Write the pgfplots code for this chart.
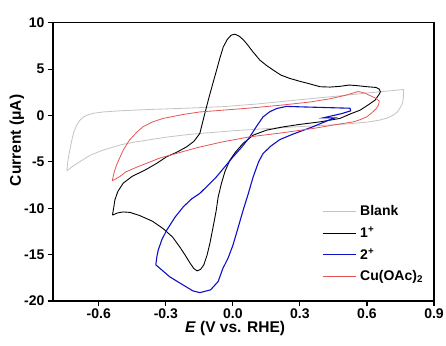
\documentclass[border=0pt]{standalone}
\usepackage{fontspec}
\setmainfont{Liberation Sans}
\usepackage{pgfplots}
\pgfplotsset{compat=1.18}
\definecolor{cblank}{RGB}{195,195,195}
\definecolor{cred}{RGB}{228,85,85}
\definecolor{cblue}{RGB}{15,15,200}
\begin{document}
\begin{tikzpicture}
\useasboundingbox (-53pt,-44pt) rectangle (393pt,301pt);
\begin{axis}[
  at={(0pt,0pt)}, anchor=south west,
  scale only axis, width=381pt, height=278.3pt,
  xmin=-0.805, xmax=0.9, ymin=-20, ymax=10,
  xtick={-0.6,-0.3,0,0.3,0.6,0.9},
  ytick={-20,-15,-10,-5,0,5,10},
  /pgf/number format/assume math mode=true,
  x tick label style={/pgf/number format/.cd,fixed,fixed zerofill,precision=1,/tikz/.cd},
  tick label style={font=\bfseries\fontsize{14}{14}\selectfont},
  xticklabel style={yshift=1pt},
  axis line style={line width=1.1pt},
  every tick/.style={black, line width=1.1pt},
  major tick length=5pt,
  tick align=outside,
  xtick pos=lower, ytick pos=left,
  xlabel={\textit{E} (V vs. RHE)},
  xlabel style={at={(axis description cs:0.478,-0.099)}, anchor=center, font=\bfseries\fontsize{15.5}{15.5}\selectfont},
  ylabel={Current (μA)},
  ylabel style={at={(axis description cs:-0.095,0.577)}, anchor=center, font=\bfseries\fontsize{15.5}{15.5}\selectfont},
  legend style={draw=none, fill=none, at={(axis description cs:0.698,0.358)}, anchor=north west,
    font=\bfseries\fontsize{14}{14}\selectfont, row sep=5.5pt, cells={anchor=west},
    nodes={inner xsep=4pt}},
  legend image code/.code={\draw[#1] (0pt,0pt) -- (33pt,0pt);},
]
\addplot[cblank, line width=0.8pt] table {
-0.743 -5.97
-0.740 -5.2
-0.735 -4.4
-0.728 -3.5
-0.720 -2.6
-0.712 -1.8
-0.700 -1.1
-0.686 -0.55
-0.668 -0.15
-0.645 0.1
-0.620 0.25
-0.580 0.38
-0.507 0.5
-0.400 0.62
-0.224 0.77
-0.045 0.95
0.100 1.22
0.211 1.48
0.300 1.70
0.400 1.93
0.500 2.17
0.600 2.42
0.700 2.65
0.763 2.80
0.764 2.3
0.762 1.7
0.757 1.2
0.748 0.8
0.735 0.35
0.717 0.03
0.690 -0.28
0.657 -0.5
0.600 -0.72
0.509 -0.92
0.400 -1.08
0.300 -1.2
0.150 -1.42
0.000 -1.65
-0.148 -1.94
-0.224 -2.12
-0.300 -2.35
-0.433 -2.84
-0.500 -3.15
-0.582 -3.74
-0.640 -4.3
-0.686 -5.0
-0.718 -5.5
-0.743 -5.97
};
\addlegendentry{Blank}
\addplot[black, line width=0.9pt] table {
-0.539 -10.74
-0.533 -9.9
-0.528 -9.1
-0.515 -8.2
-0.491 -7.3
-0.450 -6.55
-0.394 -5.9
-0.340 -5.15
-0.297 -4.46
-0.250 -3.95
-0.207 -3.38
-0.175 -2.8
-0.148 -1.94
-0.133 -0.5
-0.118 0.93
-0.103 2.3
-0.088 3.6
-0.073 4.88
-0.058 6.2
-0.043 7.39
-0.025 8.2
-0.008 8.65
0.009 8.76
0.028 8.55
0.045 8.2
0.061 7.76
0.090 6.85
0.121 5.96
0.150 5.4
0.181 4.88
0.215 4.35
0.255 3.99
0.300 3.68
0.337 3.45
0.390 3.10
0.434 3.06
0.479 3.14
0.520 3.28
0.554 3.22
0.600 3.10
0.640 3.02
0.655 2.85
0.660 2.55
0.655 2.3
0.636 1.65
0.600 1.05
0.569 0.57
0.524 0.15
0.479 -0.32
0.390 -0.69
0.300 -0.96
0.225 -1.23
0.151 -1.58
0.091 -2.12
0.046 -3.0
0.010 -4.0
-0.013 -4.8
-0.035 -6.0
-0.051 -7.3
-0.066 -8.8
-0.075 -10.3
-0.090 -12.2
-0.103 -13.8
-0.115 -15.0
-0.130 -16.1
-0.145 -16.6
-0.160 -16.75
-0.175 -16.5
-0.192 -15.9
-0.215 -15.0
-0.237 -14.2
-0.270 -13.1
-0.312 -12.2
-0.360 -11.4
-0.416 -10.8
-0.460 -10.45
-0.491 -10.4
-0.515 -10.5
-0.539 -10.74
};
\addlegendentry{1\textsuperscript{+}}
\addplot[cblue, line width=1.1pt] table {
-0.345 -16.1
-0.340 -15.2
-0.334 -14.5
-0.318 -13.4
-0.297 -12.4
-0.260 -11.0
-0.222 -9.85
-0.185 -9.0
-0.148 -8.4
-0.110 -7.5
-0.073 -6.6
-0.035 -5.5
0.001 -4.46
0.040 -3.4
0.076 -2.3
0.105 -1.2
0.135 -0.15
0.165 0.4
0.196 0.75
0.240 0.98
0.300 0.93
0.420 0.85
0.524 0.78
0.527 0.5
0.487 0.2
0.405 -0.25
0.457 -0.26
0.430 -0.5
0.360 -1.2
0.270 -2.0
0.210 -2.6
0.170 -3.3
0.135 -4.1
0.115 -5.0
0.091 -6.6
0.068 -8.5
0.046 -10.2
0.022 -12.2
0.000 -14.0
-0.022 -15.4
-0.045 -16.5
-0.066 -17.9
-0.100 -18.8
-0.148 -19.1
-0.180 -18.9
-0.207 -18.5
-0.245 -17.95
-0.282 -17.4
-0.345 -16.1
};
\addlegendentry{2\textsuperscript{+}}
\addplot[cred, line width=0.8pt] table {
-0.540 -7.05
-0.530 -6.0
-0.520 -5.3
-0.507 -4.6
-0.490 -3.7
-0.463 -2.66
-0.430 -1.8
-0.403 -1.23
-0.360 -0.70
-0.313 -0.32
-0.224 0.10
-0.148 0.38
-0.045 0.57
0.076 0.80
0.211 1.10
0.345 1.45
0.434 1.80
0.500 2.15
0.561 2.58
0.590 2.42
0.613 2.15
0.640 1.85
0.655 1.55
0.652 1.15
0.642 0.75
0.620 0.25
0.599 -0.15
0.570 -0.45
0.539 -0.69
0.464 -0.97
0.360 -1.40
0.211 -1.90
0.076 -2.30
-0.045 -2.84
-0.148 -3.40
-0.224 -3.90
-0.328 -4.60
-0.433 -5.60
-0.480 -6.10
-0.507 -6.60
-0.540 -7.05
};
\addlegendentry{Cu(OAc)\textsubscript{2}}
\end{axis}
\end{tikzpicture}
\end{document}
